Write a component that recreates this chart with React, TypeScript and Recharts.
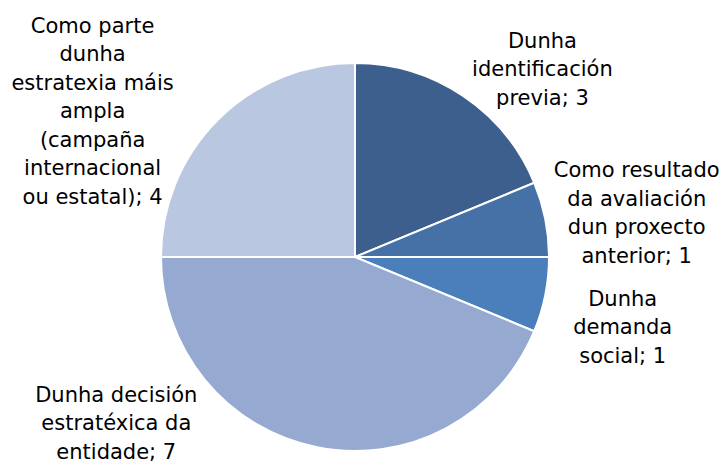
import React from "react";
import { PieChart, Pie, Cell } from "recharts";

const categories = [
  "Dunha identificación previa",
  "Como resultado da avaliación dun proxecto anterior",
  "Dunha demanda social",
  "Dunha decisión estratéxica da entidade",
  "Como parte dunha estratexia máis ampla (campaña internacional ou estatal)",
];
const values = [3, 1, 1, 7, 4];
const labelLines = [
  ["Dunha", "identificación", "previa; 3"],
  ["Como resultado", "da avaliación", "dun proxecto", "anterior; 1"],
  ["Dunha", "demanda", "social; 1"],
  ["Dunha decisión", "estratéxica da", "entidade; 7"],
  ["Como parte", "dunha", "estratexia máis", "ampla", "(campaña", "internacional", "ou estatal); 4"],
];

const colors = ["#3C5F8E", "#4571A6", "#4B7FBC", "#95A9D1", "#B9C7E1"];
const labelNudges = [
  [63, -2],
  [62, -1],
  [48, 26],
  [-195, -54],
  [-104, 12],
];

const data = categories.map((name, i) => ({ name, value: values[i] }));

const RAD = Math.PI / 180;
const LINE_H = 28.5;
const FONT = 21;

const renderLabel = (props: any) => {
  const { cx, cy, midAngle, outerRadius, index } = props;
  const r = outerRadius + 30;
  const ax = cx + r * Math.cos(-midAngle * RAD);
  const ay = cy + r * Math.sin(-midAngle * RAD);
  const [nx, ny] = labelNudges[index];
  const x = ax + nx;
  const y = ay + ny;
  const lines = labelLines[index];
  const y0 = y - ((lines.length - 1) * LINE_H) / 2 + FONT * 0.36;
  return (
    <text
      key={"lbl" + index}
      x={x}
      y={y0}
      textAnchor="middle"
      fontFamily="'DejaVu Sans', sans-serif"
      fontSize={FONT}
      fill="#000"
    >
      {lines.map((l, i) => (
        <tspan key={i} x={x} y={y0 + i * LINE_H}>
          {l}
        </tspan>
      ))}
    </text>
  );
};

export default function App() {
  return (
    <div style={{ position: "absolute", left: 0, top: 0, width: 724, height: 463, background: "#fff" }}>
      <PieChart width={724} height={463} margin={{ top: 0, right: 0, bottom: 0, left: 0 }}>
        <Pie
          data={data}
          dataKey="value"
          nameKey="name"
          cx={355}
          cy={257}
          outerRadius={194}
          startAngle={90}
          endAngle={-270}
          stroke="#ffffff"
          strokeWidth={2}
          label={renderLabel}
          labelLine={false}
          isAnimationActive={false}
        >
          {data.map((d, i) => (
            <Cell key={d.name} fill={colors[i]} />
          ))}
        </Pie>
      </PieChart>
    </div>
  );
}
